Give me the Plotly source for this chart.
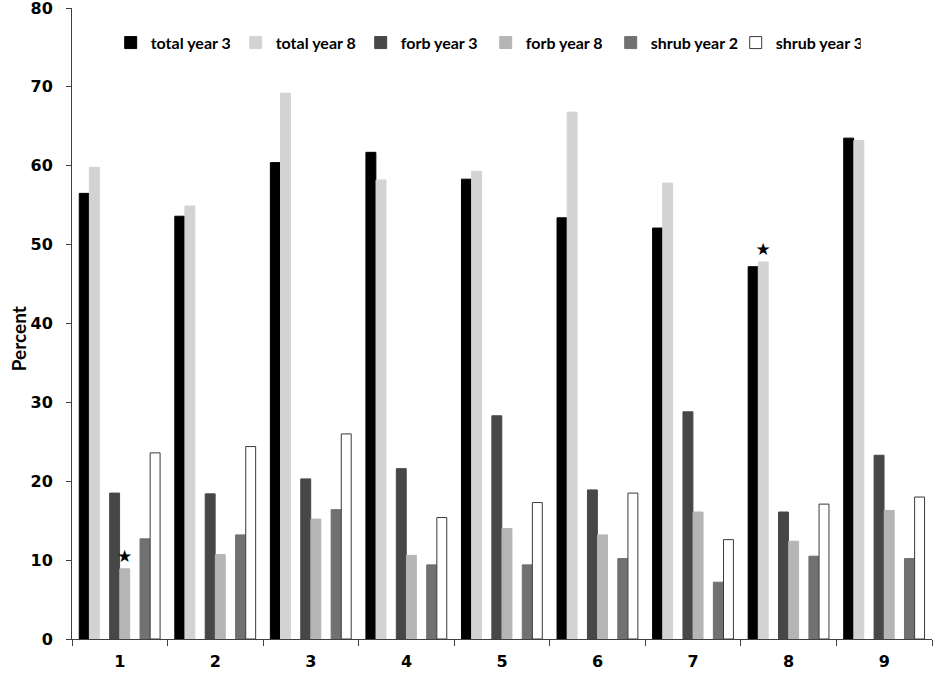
import plotly.graph_objects as go

categories = ["1", "2", "3", "4", "5", "6", "7", "8", "9"]

total_year3 = [56.5, 53.6, 60.4, 61.7, 58.3, 53.4, 52.1, 47.2, 63.5]
total_year8 = [59.8, 54.9, 69.2, 58.2, 59.3, 66.8, 57.8, 47.8, 63.2]
forb_year3 = [18.5, 18.4, 20.3, 21.6, 28.3, 18.9, 28.8, 16.1, 23.3]
forb_year8 = [8.9, 10.7, 15.2, 10.6, 14.0, 13.2, 16.1, 12.4, 16.3]
shrub_year2 = [12.7, 13.2, 16.4, 9.4, 9.4, 10.2, 7.2, 10.5, 10.2]
shrub_year3 = [23.6, 24.4, 26.0, 15.4, 17.3, 18.5, 12.6, 17.1, 18.0]

star_total_year8 = ["", "", "", "", "", "", "", "★", ""]
star_forb_year8 = ["★", "", "", "", "", "", "", "", ""]

y_ticks = [0, 10, 20, 30, 40, 50, 60, 70, 80]

series = [
    ("total year 3", total_year3, "#000000", "#000000", None),
    ("total year 8", total_year8, "#d3d3d3", "#d3d3d3", star_total_year8),
    ("forb year 3", forb_year3, "#474747", "#474747", None),
    ("forb year 8", forb_year8, "#b5b5b5", "#b5b5b5", star_forb_year8),
    ("shrub year 2", shrub_year2, "#717171", "#717171", None),
    ("shrub year 3", shrub_year3, "#ffffff", "#3a3a3a", None),
]
slots = [0, 1, 3, 4, 6, 7]
slot_w = 0.106
start = -0.424

fig = go.Figure()
for (name, vals, col, lcol, txt), s in zip(series, slots):
    fig.add_trace(go.Bar(
        name=name, x=categories, y=vals,
        marker=dict(color=col, line=dict(color=lcol, width=1)),
        width=slot_w * 0.98, offset=start + s * slot_w,
        text=txt, textposition="outside" if txt else None,
        textfont=dict(family="DejaVu Sans", size=17, color="#000000"),
        constraintext="none", cliponaxis=False,
    ))

fig.update_layout(
    width=933, height=674,
    margin=dict(l=72, r=1, t=8, b=35, autoexpand=False),
    paper_bgcolor="white", plot_bgcolor="white",
    barmode="overlay",
    showlegend=True,
    legend=dict(orientation="h", x=0.045, y=0.972, xanchor="left", yanchor="top",
                font=dict(family="Lato", size=16, color="#000000", weight="bold"),
                entrywidth=80, entrywidthmode="pixels", itemwidth=30,
                bgcolor="rgba(0,0,0,0)", traceorder="normal"),
    xaxis=dict(type="category", range=[-0.5, 8.5], automargin=False,
               showline=True, linecolor="#404040", linewidth=1,
               ticks="outside", tickson="boundaries", ticklen=6, tickcolor="#404040",
               ticklabelstandoff=8,
               tickfont=dict(family="DejaVu Sans", size=16, color="#000000", weight="bold"),
               showgrid=False),
    yaxis=dict(range=[0, 80], tickmode="array", tickvals=y_ticks, automargin=False,
               showline=True, linecolor="#404040", linewidth=1,
               ticks="outside", ticklen=5, tickcolor="#404040",
               ticklabelstandoff=10, ticklabeloverflow="allow",
               tickfont=dict(family="DejaVu Sans", size=16, color="#000000", weight="bold"),
               showgrid=False, zeroline=False),
    font=dict(family="Lato", color="#000000"),
    annotations=[dict(text="<b>Percent</b>", textangle=-90, xref="paper", yref="paper",
                      x=0, y=0.475, xshift=-54, xanchor="center", yanchor="middle",
                      showarrow=False,
                      font=dict(family="Lato", size=19, color="#000000"))],
)

fig.write_html("out.html", config={"displayModeBar": False},
               post_script="document.body.style.margin='0';")
